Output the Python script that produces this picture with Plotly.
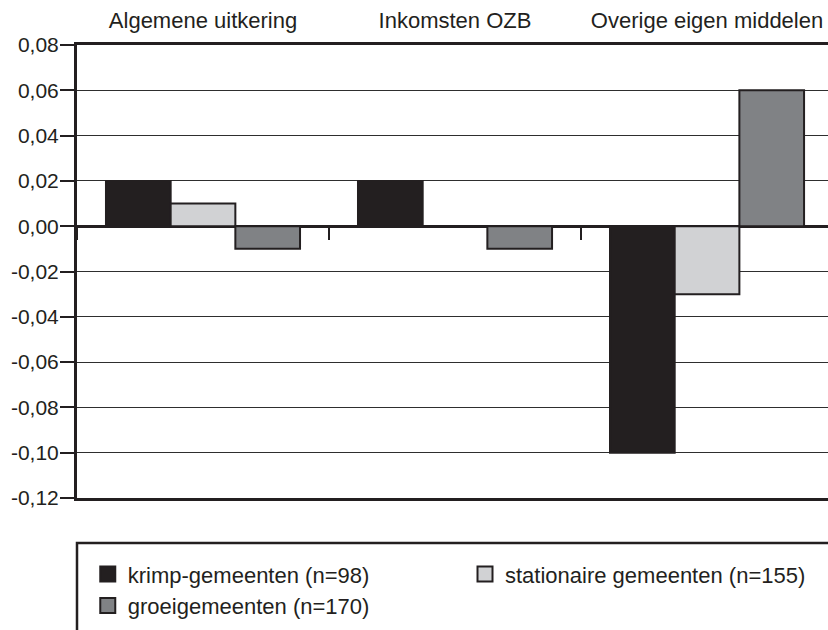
import plotly.graph_objects as go

# categorieën en waarden
categories = ['Algemene uitkering', 'Inkomsten OZB', 'Overige eigen middelen']
krimp = [0.02, 0.02, -0.10]
stationair = [0.01, 0.00, -0.03]
groei = [-0.01, -0.01, 0.06]

series_names = ['krimp-gemeenten (n=98)', 'stationaire gemeenten (n=155)', 'groeigemeenten (n=170)']
series_colors = ['#231f20', '#d1d2d4', '#808285']
series_legend = ['legend', 'legend2', 'legend']

y_ticks = [0.08, 0.06, 0.04, 0.02, 0.00, -0.02, -0.04, -0.06, -0.08, -0.10, -0.12]
y_ticklabels = ['0,08', '0,06', '0,04', '0,02', '0,00', '-0,02', '-0,04', '-0,06', '-0,08', '-0,10', '-0,12']

edge = '#231f20'
font_family = 'Liberation Sans, Arial, sans-serif'

fig = go.Figure()

for name, vals, col in zip(series_names, [krimp, stationair, groei], series_colors):
    fig.add_trace(go.Bar(x=categories, y=vals, name=name, marker_color=col,
                         marker_line_color=edge, marker_line_width=2,
                         showlegend=False, hoverinfo='skip'))

# legenda-items (vierkantjes)
for name, col, lg in zip(series_names, series_colors, series_legend):
    fig.add_trace(go.Scatter(x=[None], y=[None], mode='markers', name=name, legend=lg,
                             marker=dict(symbol='square', size=15, color=col,
                                         line=dict(color=edge, width=2))))

# hulptrace voor de kleine streepjes onder de nullijn
fig.add_trace(go.Scatter(x=categories, y=[None] * len(categories), xaxis='x2',
                         showlegend=False, hoverinfo='skip', mode='markers'))

legend_style = dict(orientation='v', yanchor='top', xanchor='left',
                    xref='container', yref='container',
                    font=dict(size=22, family=font_family, color=edge),
                    bgcolor='rgba(0,0,0,0)', itemclick=False, itemdoubleclick=False)

fig.update_layout(
    width=828, height=630,
    margin=dict(l=77, r=0, t=45, b=132, autoexpand=False),
    paper_bgcolor='white', plot_bgcolor='white',
    barmode='group', bargap=0.23, bargroupgap=0,
    font=dict(family=font_family, size=20, color=edge),
    xaxis=dict(type='category', side='top', range=[-0.5, 2.48], automargin=False,
               showline=True, mirror=True, linecolor=edge, linewidth=3,
               ticks='', showgrid=False, zeroline=False,
               tickfont=dict(size=22), ticklabelstandoff=5),
    xaxis2=dict(type='category', overlaying='x', matches='x', anchor='free',
                position=0.6, side='bottom', ticks='outside', tickson='boundaries',
                ticklen=13, tickwidth=1.5, tickcolor=edge, automargin=False,
                showticklabels=False, showgrid=False, showline=False, zeroline=False),
    yaxis=dict(range=[-0.12, 0.08], tickvals=y_ticks, ticktext=y_ticklabels,
               automargin=False,
               showline=True, linecolor=edge, linewidth=3,
               ticks='outside', ticklen=14, tickwidth=2, tickcolor=edge,
               showgrid=True, gridcolor='#2e2e2e', gridwidth=1.4,
               zeroline=True, zerolinecolor=edge, zerolinewidth=2.5,
               tickfont=dict(size=21), ticklabelstandoff=-3),
    legend=dict(x=0.106, y=0.122, **legend_style),
    legend2=dict(x=0.5616, y=0.122, **legend_style),
    shapes=[dict(type='rect', xref='paper', yref='paper', x0=0, x1=1.05,
                 y0=-0.5, y1=-0.0993, line=dict(color=edge, width=2.5), layer='below')],
)

# pagina zonder standaardmarge van de browser, zonder modebar
fig.write_html('out.html', config={'displayModeBar': False},
               post_script="document.body.style.margin='0';")
